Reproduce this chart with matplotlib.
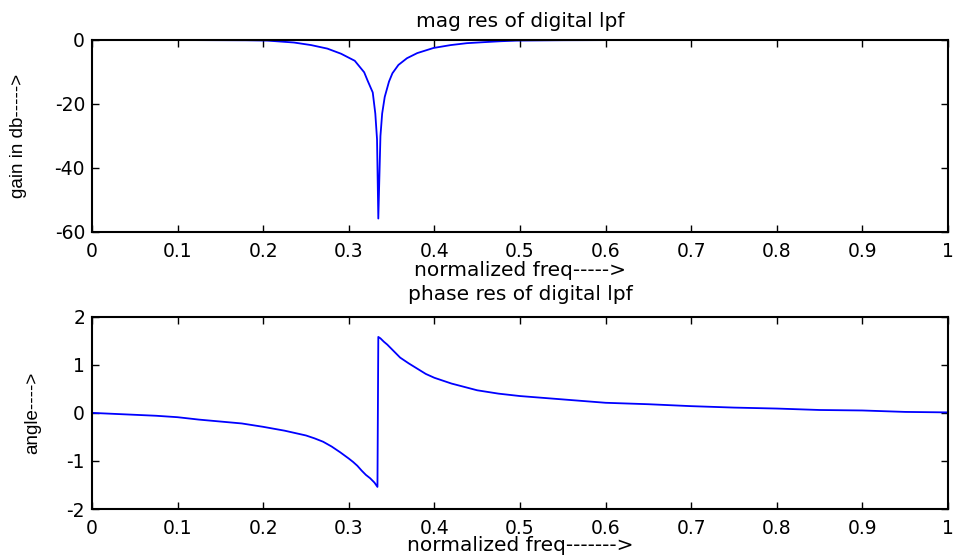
import matplotlib
matplotlib.use("Agg")
import matplotlib.pyplot as plt

# Normalized frequency (x pi rad/sample) and magnitude response in dB
mag_freq = [0.0, 0.10, 0.18, 0.205, 0.236, 0.256, 0.275, 0.291, 0.307, 0.318,
            0.322, 0.328, 0.331, 0.333, 0.3345, 0.337, 0.339, 0.342, 0.347,
            0.351, 0.358, 0.368, 0.380, 0.399, 0.419, 0.438, 0.457, 0.477,
            0.496, 0.55, 0.60, 0.80, 1.0]
mag_db = [0.0, -0.02, -0.1, -0.2, -0.8, -1.6, -2.7, -4.3, -6.5, -10.1,
          -12.7, -16.4, -23.0, -31.0, -55.8, -30.0, -23.0, -17.8, -13.0,
          -10.4, -7.8, -5.7, -4.1, -2.5, -1.6, -1.0, -0.7, -0.4,
          -0.2, -0.08, -0.04, -0.01, 0.0]

# Phase response in radians
ph_freq = [0.0, 0.025, 0.05, 0.075, 0.10, 0.125, 0.15, 0.175, 0.20, 0.225,
           0.25, 0.26, 0.27, 0.28, 0.29, 0.30, 0.305, 0.31, 0.315, 0.32,
           0.325, 0.33, 0.3335,
           0.3345, 0.337, 0.341, 0.345, 0.35, 0.355, 0.36, 0.37, 0.38, 0.39,
           0.40, 0.41, 0.42, 0.435, 0.45, 0.475, 0.50,
           0.55, 0.60, 0.65, 0.70, 0.75, 0.80, 0.85, 0.90, 0.95, 1.0]
ph_rad = [0.0, -0.02, -0.04, -0.06, -0.09, -0.14, -0.18, -0.22, -0.29, -0.37,
          -0.47, -0.53, -0.60, -0.70, -0.82, -0.95, -1.02, -1.10, -1.20, -1.29,
          -1.36, -1.45, -1.54,
          1.58, 1.55, 1.48, 1.42, 1.33, 1.24, 1.15, 1.03, 0.92, 0.81,
          0.73, 0.67, 0.61, 0.54, 0.47, 0.40, 0.35,
          0.28, 0.21, 0.18, 0.14, 0.11, 0.09, 0.06, 0.05, 0.02, 0.01]

x_ticks = [0, 0.1, 0.2, 0.3, 0.4, 0.5, 0.6, 0.7, 0.8, 0.9, 1]
x_tick_labels = ["0", "0.1", "0.2", "0.3", "0.4", "0.5", "0.6", "0.7", "0.8", "0.9", "1"]
mag_yticks = [-60, -40, -20, 0]
ph_yticks = [-2, -1, 0, 1, 2]

plt.rcParams["font.family"] = ["DejaVu Sans"]
plt.rcParams["axes.unicode_minus"] = False

fig = plt.figure(figsize=(9.54, 5.59), dpi=100)
ax1 = fig.add_axes([0.0964, 0.585, 0.8973, 0.3435])
ax2 = fig.add_axes([0.0964, 0.0894, 0.8973, 0.344])

line_color = (0, 0, 1)
label_family = ["Liberation Sans", "DejaVu Sans"]


def style(ax):
    ax.set_xlim(0, 1)
    ax.set_xticks(x_ticks)
    ax.set_xticklabels(x_tick_labels)
    ax.tick_params(direction="in", length=5, width=1.0, top=True, right=True,
                   labelsize=13.5, colors="black")
    ax.tick_params(axis="x", pad=7)
    ax.tick_params(axis="y", pad=5)
    for s in ax.spines.values():
        s.set_linewidth(1.5)
        s.set_color("black")


ax1.plot(mag_freq, mag_db, color=line_color, linewidth=1.3)
style(ax1)
ax1.set_ylim(-60, 0)
ax1.set_yticks(mag_yticks)
ax1.set_title("mag res of digital lpf", fontsize=14.5, pad=9)
ax1.set_xlabel("normalized freq----->", fontsize=14.5, labelpad=0)
ax1.set_ylabel("gain in db----->", fontsize=13.5, family=label_family, labelpad=20)

ax2.plot(ph_freq, ph_rad, color=line_color, linewidth=1.3)
style(ax2)
ax2.set_ylim(-2, 2)
ax2.set_yticks(ph_yticks)
ax2.set_title("phase res of digital lpf", fontsize=14.5, pad=12)
ax2.set_xlabel("normalized freq------->", fontsize=14.5, labelpad=-1)
ax2.set_ylabel("angle---->", fontsize=13.5, family=label_family, labelpad=18)

fig.savefig("out.png", dpi=100)
